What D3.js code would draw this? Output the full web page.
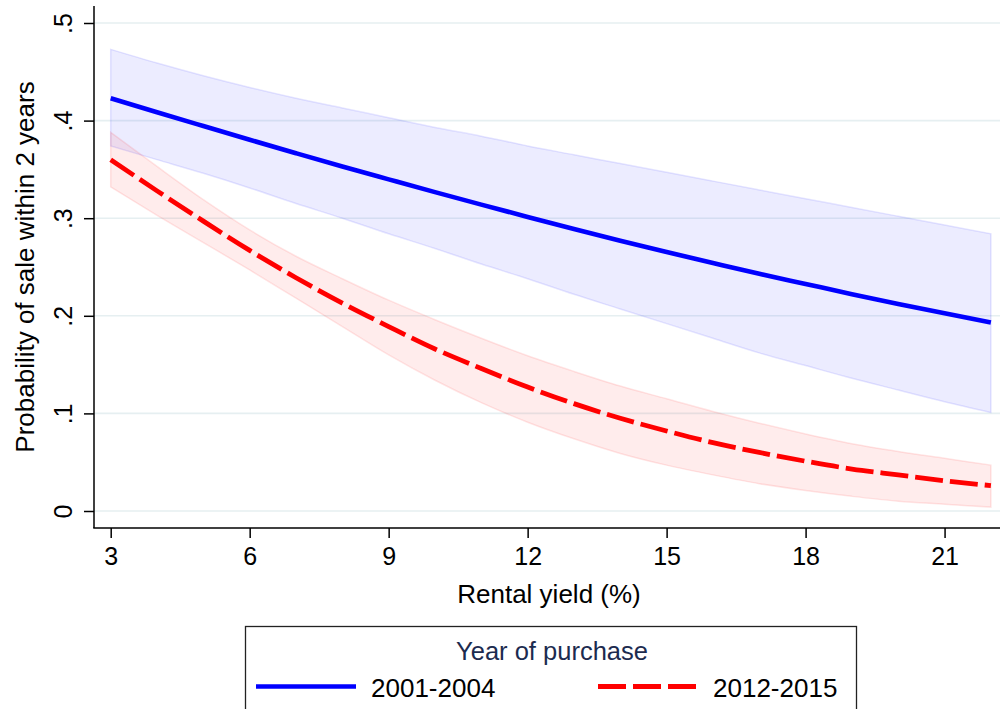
<!DOCTYPE html>
<html>
<head>
<meta charset="utf-8">
<script src="https://cdn.jsdelivr.net/npm/d3@7"></script>
<style>
  html, body { margin: 0; padding: 0; background: #fff; }
  svg { display: block; font-family: "Liberation Sans", Arial, Helvetica, sans-serif; }
</style>
</head>
<body>
<svg id="chart" width="1000" height="709"></svg>
<script>
// Predicted probability of sale within 2 years, by rental yield (%)
const rentalYield = [3, 4, 5, 6, 7, 8, 9, 10, 11, 12, 13, 14, 15, 16, 17, 18, 19, 20, 21, 22];

// Purchased 2001-2004: margin and 95% CI
const prob2001 = [0.4229, 0.4085, 0.3944, 0.3804, 0.3666, 0.3530, 0.3398, 0.3267, 0.3139, 0.3013,
                  0.2890, 0.2770, 0.2654, 0.2541, 0.2430, 0.2326, 0.2222, 0.2122, 0.2025, 0.1931];
const lo2001   = [0.374, 0.360, 0.346, 0.331, 0.315, 0.300, 0.284, 0.269, 0.253, 0.238,
                  0.222, 0.207, 0.192, 0.177, 0.162, 0.149, 0.136, 0.124, 0.112, 0.101];
const hi2001   = [0.473, 0.459, 0.446, 0.434, 0.423, 0.413, 0.403, 0.393, 0.384, 0.374,
                  0.365, 0.356, 0.347, 0.338, 0.329, 0.320, 0.311, 0.302, 0.293, 0.284];

// Purchased 2012-2015: margin and 95% CI
const prob2012 = [0.360, 0.328, 0.297, 0.267, 0.239, 0.213, 0.189, 0.166, 0.146, 0.127,
                  0.110, 0.095, 0.082, 0.070, 0.060, 0.051, 0.043, 0.037, 0.031, 0.026];
const lo2012   = [0.332, 0.303, 0.275, 0.247, 0.218, 0.189, 0.160, 0.134, 0.111, 0.091,
                  0.074, 0.059, 0.047, 0.037, 0.028, 0.021, 0.015, 0.010, 0.007, 0.004];
const hi2012   = [0.388, 0.353, 0.319, 0.288, 0.261, 0.238, 0.216, 0.196, 0.177, 0.159,
                  0.143, 0.128, 0.115, 0.102, 0.090, 0.079, 0.069, 0.061, 0.054, 0.047];

const xTicks = [3, 6, 9, 12, 15, 18, 21];
const yTicks = [0, 0.1, 0.2, 0.3, 0.4, 0.5];
const yTickLabels = ["0", ".1", ".2", ".3", ".4", ".5"];
const seriesNames = ["2001-2004", "2012-2015"];
const legendTitle = "Year of purchase";
const xTitle = "Rental yield (%)";
const yTitle = "Probability of sale within 2 years";

const svg = d3.select("#chart");

const x = d3.scaleLinear().domain([3, 22]).range([110.7, 990.9]);
const y = d3.scaleLinear().domain([0, 0.5]).range([511, 23]);

const axisLeftX = 94, axisBottomY = 528, plotRight = 1000;

// grid lines
svg.append("g").selectAll("line").data(yTicks).join("line")
  .attr("x1", axisLeftX).attr("x2", plotRight)
  .attr("y1", d => y(d)).attr("y2", d => y(d))
  .attr("stroke", "#e6eff1").attr("stroke-width", 1.6);

const rows = rentalYield.map((r, i) => ({
  r, p1: prob2001[i], l1: lo2001[i], h1: hi2001[i],
  p2: prob2012[i], l2: lo2012[i], h2: hi2012[i]
}));

const curve = d3.curveMonotoneX;
const band = (lo, hi) => d3.area().curve(curve)
  .x(d => x(d.r)).y0(d => y(d[lo])).y1(d => y(d[hi]));
const line = key => d3.line().curve(curve).x(d => x(d.r)).y(d => y(d[key]));

// confidence bands
svg.append("path").attr("d", band("l1", "h1")(rows))
  .attr("fill", "rgba(0,0,255,0.075)")
  .attr("stroke", "rgba(0,0,255,0.1)").attr("stroke-width", 1.5);
svg.append("path").attr("d", band("l2", "h2")(rows))
  .attr("fill", "rgba(255,0,0,0.075)")
  .attr("stroke", "rgba(255,0,0,0.1)").attr("stroke-width", 1.5);

// predicted lines
svg.append("path").attr("d", line("p1")(rows))
  .attr("fill", "none").attr("stroke", "#0000ff").attr("stroke-width", 4.6);
svg.append("path").attr("d", line("p2")(rows))
  .attr("fill", "none").attr("stroke", "#ff0000").attr("stroke-width", 4.8)
  .attr("stroke-dasharray", "28,7");

// axes
const yAxis = d3.axisLeft(y).tickValues(yTicks).tickSize(10)
  .tickFormat((d, i) => yTickLabels[i]);
const gy = svg.append("g").attr("transform", `translate(${axisLeftX},0)`).call(yAxis);
gy.select(".domain").remove();
gy.selectAll(".tick line").attr("stroke", "#000").attr("stroke-width", 1.5);
// rotated labels, baseline at x = 72
gy.selectAll(".tick text")
  .attr("x", 0).attr("y", 0).attr("dy", 0)
  .attr("transform", `translate(${72 - axisLeftX},0) rotate(-90)`)
  .attr("text-anchor", "middle").attr("font-size", 25).attr("fill", "#000")
  .style("font-family", "'Liberation Sans', Arial, sans-serif");

const xAxis = d3.axisBottom(x).tickValues(xTicks).tickSize(10).tickFormat(d3.format("d"));
const gx = svg.append("g").attr("transform", `translate(0,${axisBottomY})`).call(xAxis);
gx.select(".domain").remove();
gx.selectAll(".tick line").attr("stroke", "#000").attr("stroke-width", 1.5);
gx.selectAll(".tick text")
  .attr("y", 37).attr("dy", 0).attr("font-size", 25).attr("fill", "#000")
  .style("font-family", "'Liberation Sans', Arial, sans-serif");

// axis lines
svg.append("line").attr("x1", axisLeftX).attr("x2", axisLeftX).attr("y1", 6).attr("y2", axisBottomY)
  .attr("stroke", "#000").attr("stroke-width", 1.5);
svg.append("line").attr("x1", axisLeftX - 0.75).attr("x2", plotRight).attr("y1", axisBottomY).attr("y2", axisBottomY)
  .attr("stroke", "#000").attr("stroke-width", 1.5);

// axis titles
svg.append("text").attr("x", 549).attr("y", 603).attr("text-anchor", "middle")
  .attr("font-size", 26).attr("fill", "#000").text(xTitle);
svg.append("text").attr("transform", `translate(34,267) rotate(-90)`)
  .attr("text-anchor", "middle").attr("font-size", 26).attr("fill", "#000").text(yTitle);

// legend
const lg = svg.append("g");
lg.append("rect").attr("x", 245.5).attr("y", 626.5).attr("width", 611).attr("height", 120)
  .attr("fill", "#fff").attr("stroke", "#222").attr("stroke-width", 1.3);
lg.append("text").attr("x", 552).attr("y", 660).attr("text-anchor", "middle")
  .attr("font-size", 25.5).attr("fill", "#1c2b4f").text(legendTitle);
lg.append("line").attr("x1", 256).attr("x2", 356).attr("y1", 686.5).attr("y2", 686.5)
  .attr("stroke", "#0000ff").attr("stroke-width", 4.6);
lg.append("text").attr("x", 371).attr("y", 697).attr("font-size", 26).attr("fill", "#000").text(seriesNames[0]);
lg.append("line").attr("x1", 598).attr("x2", 697).attr("y1", 686.5).attr("y2", 686.5)
  .attr("stroke", "#ff0000").attr("stroke-width", 4.8).attr("stroke-dasharray", "28,7");
lg.append("text").attr("x", 713).attr("y", 697).attr("font-size", 26).attr("fill", "#000").text(seriesNames[1]);
</script>
</body>
</html>
